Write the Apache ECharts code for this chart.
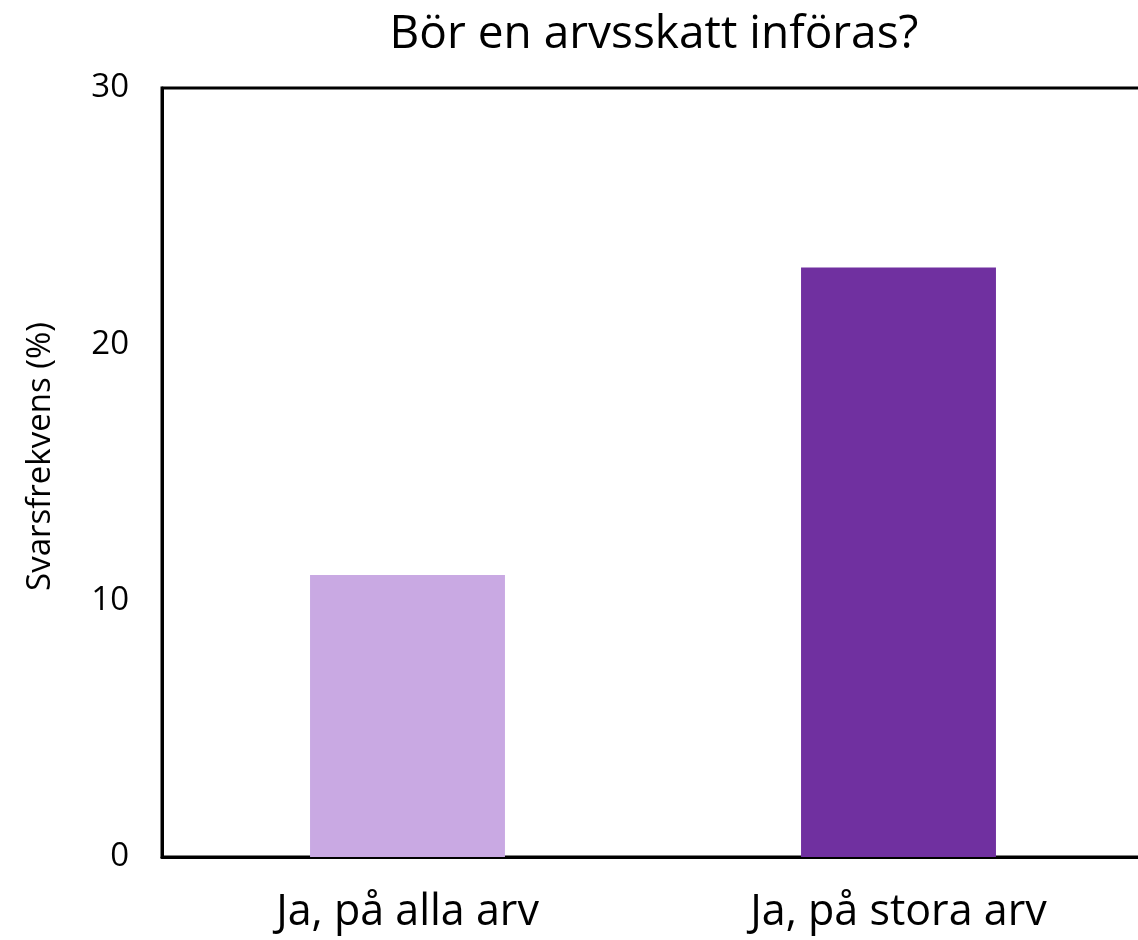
<!DOCTYPE html>
<html>
<head>
<meta charset="utf-8">
<script src="https://cdn.jsdelivr.net/npm/echarts@6/dist/echarts.min.js"></script>
<style>
html,body{margin:0;padding:0;background:#fff;overflow:hidden;}
#main{width:1160px;height:940px;}
</style>
</head>
<body>
<div id="main"></div>
<script>
var categories = ["Ja, på alla arv", "Ja, på stora arv"];
var values = [11, 23];
var barColors = ["#C9A9E3", "#7030A0"];

var chart = echarts.init(document.getElementById("main"));
chart.setOption({
    backgroundColor: "#fff",
    animation: false,
    title: {
        text: "Bör en arvsskatt införas?",
        left: 649,
        top: 7,
        textAlign: "center",
        textStyle: {
            fontFamily: "Open Sans",
            fontSize: 46,
            fontWeight: "normal",
            color: "#000"
        }
    },
    grid: {
        left: 162,
        top: 88,
        width: 982,
        height: 769,
        show: true,
        borderColor: "#000",
        borderWidth: 3
    },
    xAxis: {
        type: "category",
        data: categories,
        axisLine: {lineStyle: {color: "#000", width: 3}},
        axisTick: {show: false},
        axisLabel: {
            fontFamily: "Open Sans",
            fontSize: 43,
            color: "#000",
            margin: 34
        }
    },
    yAxis: {
        type: "value",
        min: 0,
        max: 30,
        interval: 10,
        name: "Svarsfrekvens (%)",
        nameLocation: "middle",
        nameGap: 105,
        nameTextStyle: {
            fontFamily: "Open Sans",
            fontSize: 33,
            color: "#000",
            padding: [0, 0, 0, 32]
        },
        splitLine: {show: false},
        axisLine: {show: true, lineStyle: {color: "#000", width: 3}},
        axisTick: {show: false},
        axisLabel: {
            fontFamily: "Open Sans",
            fontSize: 33,
            color: "#000",
            margin: 33
        }
    },
    series: [{
        type: "bar",
        barWidth: "39.7%",
        data: values.map(function (v, i) {
            return {value: v, itemStyle: {color: barColors[i]}};
        })
    }]
});
</script>
</body>
</html>
